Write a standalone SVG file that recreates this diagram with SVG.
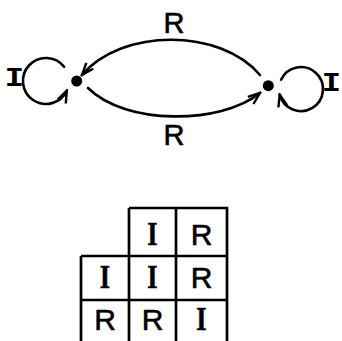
<svg xmlns="http://www.w3.org/2000/svg" width="342" height="341" viewBox="0 0 342 341">
<style>
.edge{fill:none;stroke:#000;stroke-width:2.6;stroke-linecap:round}
.lbl{font-family:"Liberation Sans",Arial,sans-serif;font-size:29px;fill:#000;stroke:#000;stroke-width:0.6;text-anchor:middle}
.lblI{font-family:"Liberation Mono","Courier New",monospace;font-weight:bold;font-size:28px;fill:#000;text-anchor:middle}
.grid{fill:none;stroke:#000;stroke-width:2.7}
.tR{font-family:"Liberation Sans",Arial,sans-serif;font-size:30px;fill:#000;stroke:#000;stroke-width:0.6;text-anchor:middle}
.tI{font-family:"Liberation Serif","Times New Roman",serif;font-weight:bold;font-size:33px;fill:#000;stroke:#000;stroke-width:0.5;text-anchor:middle}
</style>
<defs>
<marker id="arr" viewBox="-14 -7 16 14" markerWidth="16" markerHeight="14" refX="0" refY="0" orient="auto" markerUnits="userSpaceOnUse">
<path d="M-12,-4.5 L0,0 L-12,4.5" fill="none" stroke="#000" stroke-width="2.4" stroke-linejoin="miter"/>
</marker>
</defs>
<g id="connectors">
<path class="edge" d="M260,75 C220,28 122,28 82,75" marker-end="url(#arr)"/>
<path class="edge" d="M88,88 C125,125 220,125 260,93" marker-end="url(#arr)"/>
<path class="edge" d="M64.1,66.8 A23,23 0 1 0 66.8,90.7" marker-end="url(#arr)"/>
<path class="edge" d="M281.1,79.7 A22,22 0 1 1 279.7,94.7" marker-end="url(#arr)"/>
</g>
<g id="node-left"><circle cx="76.7" cy="81" r="5.5" fill="#000"/></g>
<g id="node-right"><circle cx="268.3" cy="85.7" r="5.5" fill="#000"/></g>
<g id="labels">
<text class="lblI" transform="translate(14.5,86) scale(1.15,1)">I</text>
<text class="lblI" transform="translate(331.5,91) scale(1.15,1)">I</text>
<text class="lbl" x="174" y="33">R</text>
<text class="lbl" x="174" y="145">R</text>
</g>
<g id="table">
<path class="grid" d="M129,208 H227 V341 M129,208 V341 M176,208 V341 M81,256 H227 M81,256 V341 M81,300 H227"/>
<text class="tI" transform="translate(152.5,245) scale(0.8,1)">I</text>
<text class="tR" x="201.5" y="245">R</text>
<text class="tI" transform="translate(105,288) scale(0.8,1)">I</text>
<text class="tI" transform="translate(152.5,288) scale(0.8,1)">I</text>
<text class="tR" x="201.5" y="288">R</text>
<text class="tR" x="105" y="330">R</text>
<text class="tR" x="152.5" y="330">R</text>
<text class="tI" transform="translate(201.5,330) scale(0.8,1)">I</text>
</g>
</svg>
